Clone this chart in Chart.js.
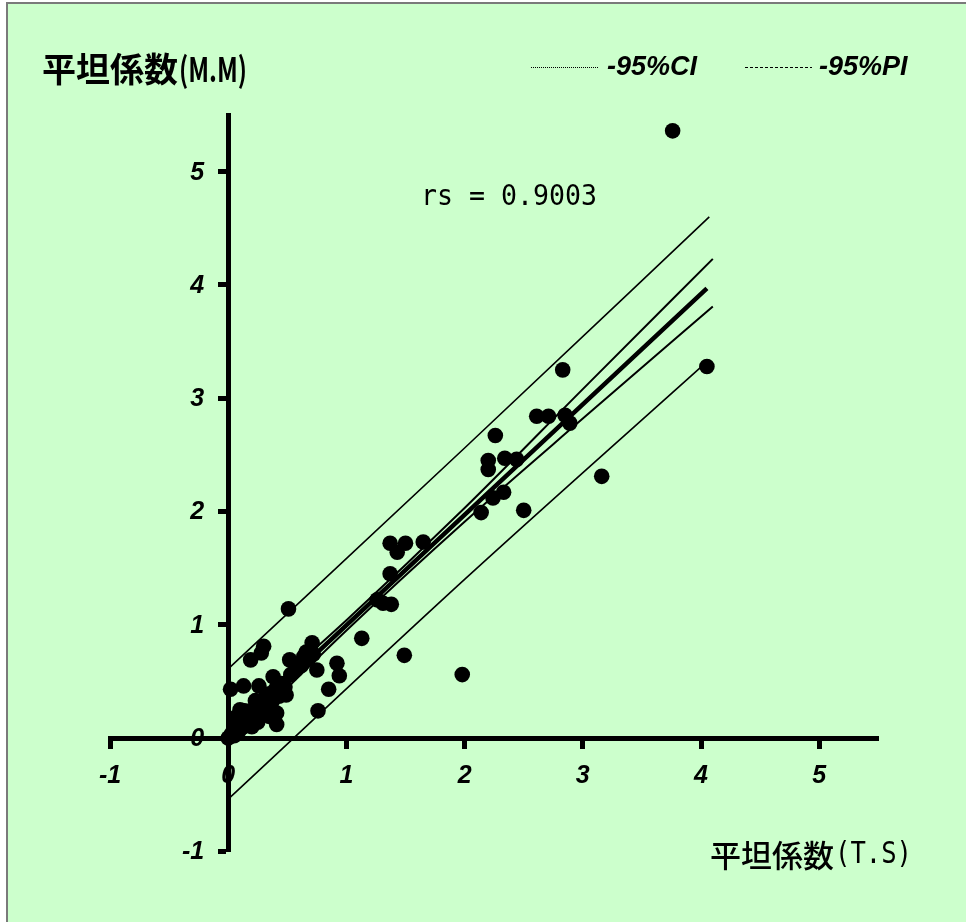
<!DOCTYPE html>
<html><head><meta charset="utf-8">
<script src="https://cdn.jsdelivr.net/npm/chart.js@4"></script>
<style>html,body{margin:0;padding:0;background:#fff}#wrap{width:966px;height:922px;position:relative}</style>
</head><body><div id="wrap"><canvas id="c"></canvas></div>
<script>
const titleYMain = '平坦係数';
const titleYSub = '(M.M)';
const titleXMain = '平坦係数';
const titleXSub = '(T.S)';
const rsText = 'rs = 0.9003';
const legendCI = '-95%CI';
const legendPI = '-95%PI';
const xTicks = [-1, 0, 1, 2, 3, 4, 5];
const yTicks = [-1, 0, 1, 2, 3, 4, 5];

const obsX = [3.76,4.05,3.16,2.83,1.98,1.49,0.51,2.50,2.61,2.71,2.85,2.89,2.26,2.20,2.20,2.34,2.44,2.33,2.24,2.14,
  1.37,1.50,1.43,1.65,1.37,1.26,1.31,1.38,1.13,0.92,0.94,0.85,0.76,0.71,0.66,0.75,0.52,0.59,0.30,0.28,0.19,0.38,0.49,
  0.26,0.13,0.02,0.41,0.00,0.03,0.05,0.07,0.09,0.11,0.13,0.15,0.17,0.19,0.21,0.23,0.25,0.27,0.29,0.31,0.33,0.35,0.37,
  0.40,0.43,0.45,0.48,0.53,0.57,0.62,0.68,0.72,0.06,0.14,0.23,0.41,0.35,0.20,0.25,0.10,0.64];
const obsY = [5.36,3.28,2.31,3.25,0.56,0.73,1.14,2.01,2.84,2.84,2.85,2.78,2.67,2.45,2.37,2.47,2.46,2.17,2.12,1.99,
  1.72,1.72,1.64,1.73,1.45,1.22,1.19,1.18,0.88,0.66,0.55,0.43,0.24,0.84,0.76,0.60,0.69,0.63,0.81,0.75,0.69,0.54,0.38,
  0.46,0.46,0.43,0.12,0.00,0.04,0.02,0.09,0.06,0.13,0.10,0.18,0.13,0.22,0.17,0.27,0.21,0.31,0.25,0.35,0.28,0.39,0.32,
  0.43,0.37,0.48,0.45,0.56,0.60,0.64,0.70,0.74,0.18,0.24,0.33,0.22,0.19,0.10,0.14,0.25,0.72];

const fitX = [0, 4.05];
const fitY = [0.02, 3.97];
const ciX = [0, 1, 2, 3, 4.1];
const ciUpper = [0.11, 1.04, 2.03, 3.08, 4.23];
const ciLower = [-0.07, 0.95, 1.91, 2.82, 3.81];
const piX = [0, 2, 4.07];
const piUpper = [0.61, 2.56, 4.60];
const piLower = [-0.54, 1.40, 3.34];

const pts = (xs, ys) => xs.map((x, i) => ({x, y: ys[i]}));
const TICK_FONT_CSS = "italic bold 25px 'Liberation Sans', Arial";

const bgPlugin = {
  id: 'bg',
  beforeDraw(chart) {
    const ctx = chart.ctx;
    ctx.save();
    ctx.fillStyle = '#ffffff';
    ctx.fillRect(0, 0, 966, 922);
    ctx.fillStyle = '#ccffcc';
    ctx.fillRect(8, 3, 958, 919);
    ctx.fillStyle = '#7a7a7a';
    ctx.fillRect(6, 2, 2, 920);
    ctx.fillRect(6, 2, 960, 2);
    ctx.restore();
  },
  afterDraw(chart) {
    const ctx = chart.ctx;
    const xs = chart.scales.x, ys = chart.scales.y;
    ctx.save();
    ctx.fillStyle = '#000';
    ctx.textBaseline = 'middle';
    // y tick labels
    ctx.textAlign = 'right';
    ctx.font = TICK_FONT_CSS;
    const x0 = xs.getPixelForValue(0);
    yTicks.forEach(v => ctx.fillText(String(v), x0 - 24, ys.getPixelForValue(v) + 1));
    ctx.textAlign = 'left';
    // axis titles
    ctx.font = "bold 34px 'Noto Sans CJK JP'";
    ctx.fillText(titleYMain, 42, 69);
    ctx.fillText(titleYSub, 179, 69, 68);
    ctx.font = "500 31px 'Noto Sans CJK JP'";
    ctx.fillText(titleXMain, 710, 855);
    ctx.font = "31px 'DejaVu Sans Mono'";
    ctx.fillText(titleXSub, 835, 855, 77);
    ctx.font = "28px 'DejaVu Sans Mono'";
    ctx.fillText(rsText, 421, 198, 176);
    // legend
    ctx.strokeStyle = '#000';
    ctx.lineWidth = 1;
    ctx.setLineDash([1, 1]);
    ctx.beginPath(); ctx.moveTo(531, 67.5); ctx.lineTo(598, 67.5); ctx.stroke();
    ctx.setLineDash([3, 2]);
    ctx.beginPath(); ctx.moveTo(745, 67.5); ctx.lineTo(812, 67.5); ctx.stroke();
    ctx.setLineDash([]);
    ctx.font = "italic bold 27px 'Liberation Sans', Arial";
    ctx.fillText(legendCI, 607, 68);
    ctx.fillText(legendPI, 819, 68);
    ctx.restore();
  }
};

const tickFont = {family: "'Liberation Sans', Arial", size: 25, weight: 'bold', style: 'italic'};
const lineDs = (data, w) => ({type: 'scatter', data, showLine: true, borderColor: '#000', borderWidth: w, pointRadius: 0, fill: false, cubicInterpolationMode: 'monotone'});

new Chart(document.getElementById('c'), {
  type: 'scatter',
  data: {
    datasets: [
      {data: pts(obsX, obsY), backgroundColor: '#000', borderWidth: 0, pointRadius: 7.8},
      lineDs(pts(fitX, fitY), 4.5),
      lineDs(pts(ciX, ciUpper), 2),
      lineDs(pts(ciX, ciLower), 2),
      lineDs(pts(piX, piUpper), 1.6),
      lineDs(pts(piX, piLower), 1.6)
    ]
  },
  options: {
    responsive: true,
    maintainAspectRatio: false,
    animation: false,
    events: [],
    layout: {padding: {left: 110, right: 87.7, top: 115, bottom: 70.7}},
    plugins: {legend: {display: false}, tooltip: {enabled: false}},
    scales: {
      x: {
        type: 'linear', min: -1, max: 5.5, position: {y: 0},
        afterBuildTicks: s => { s.ticks = xTicks.map(v => ({value: v})); },
        grid: {display: true, drawOnChartArea: false, drawTicks: true, tickLength: 8, tickWidth: 5, color: '#000'},
        border: {display: true, width: 5, color: '#000'},
        ticks: {font: tickFont, color: '#000', padding: 15, maxRotation: 0, autoSkip: false}
      },
      y: {
        type: 'linear', min: -1, max: 5.5, position: {x: 0},
        afterBuildTicks: s => { s.ticks = yTicks.map(v => ({value: v})); },
        grid: {display: true, drawOnChartArea: false, drawTicks: true, tickLength: 8, tickWidth: 5, color: '#000'},
        border: {display: true, width: 5, color: '#000'},
        ticks: {display: false}
      }
    }
  },
  plugins: [bgPlugin]
});
</script></body></html>
